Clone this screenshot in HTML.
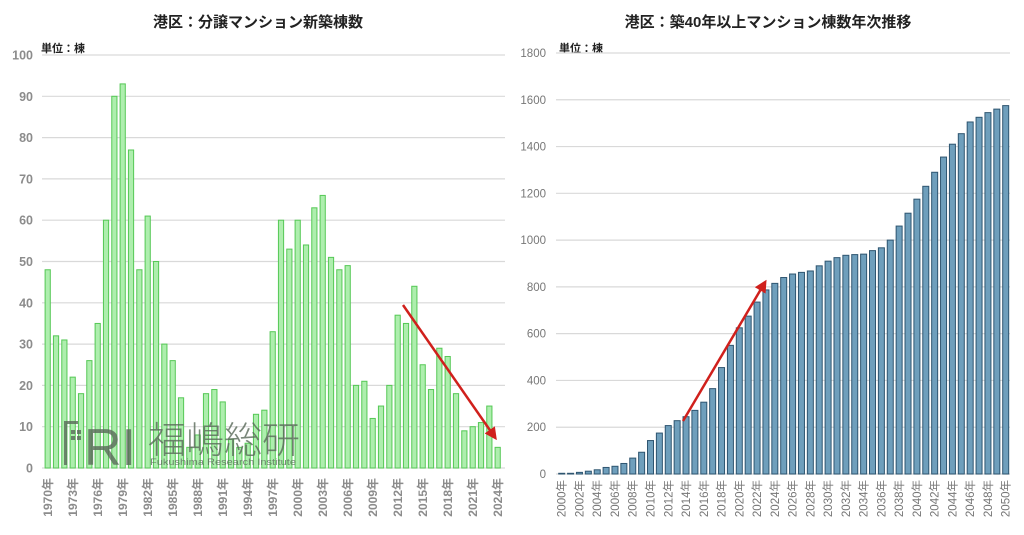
<!DOCTYPE html>
<html><head><meta charset="utf-8">
<style>
html,body{margin:0;padding:0;background:#fff;}
svg{display:block;font-family:"Liberation Sans","Noto Sans CJK JP",sans-serif;}
</style></head>
<body>
<svg id="s" width="1024" height="535" viewBox="0 0 1024 535" xmlns="http://www.w3.org/2000/svg">
<defs>
<marker id="ah" markerWidth="5" markerHeight="5" refX="3" refY="2.5" orient="auto" markerUnits="strokeWidth">
<path d="M0,0 L5,2.5 L0,5 z" fill="#d0201c"/>
</marker>
</defs>
<text x="258" y="27" font-size="15" font-weight="bold" text-anchor="middle" fill="#222">港区：分譲マンション新築棟数</text>
<text x="41" y="52" font-size="11" font-weight="bold" fill="#222">単位：棟</text>
<text x="768" y="27" font-size="15" font-weight="bold" text-anchor="middle" fill="#222">港区：築40年以上マンション棟数年次推移</text>
<text x="559" y="52" font-size="11" font-weight="bold" fill="#222">単位：棟</text>
<g id="L"></g>
<g id="R"></g>
<g opacity="0.8" fill="#5a6a5a">
<rect x="64" y="421" width="3" height="44"/><rect x="64" y="421" width="14" height="3"/>
<rect x="71" y="430" width="4" height="4"/><rect x="77" y="430" width="4" height="4"/><rect x="71" y="436" width="4" height="4"/><rect x="77" y="436" width="4" height="4"/>
<text x="84" y="465" font-size="52" textLength="52" lengthAdjust="spacingAndGlyphs">RI</text>
<text x="148" y="453" font-size="37" textLength="152" lengthAdjust="spacingAndGlyphs" font-family="'Noto Sans CJK JP',sans-serif" font-weight="300">福嶋総研</text>
<text x="150" y="465" font-size="9" textLength="146" lengthAdjust="spacingAndGlyphs">Fukushima Research Institute</text>
</g>
<line x1="403" y1="305" x2="494" y2="436" stroke="#d0201c" stroke-width="2.5" marker-end="url(#ah)"/>
<line x1="683" y1="421" x2="764" y2="284" stroke="#d0201c" stroke-width="2.5" marker-end="url(#ah)"/>
</svg>
<script>
var NS="http://www.w3.org/2000/svg";
function el(p,t,a,txt){var e=document.createElementNS(NS,t);for(var k in a)e.setAttribute(k,a[k]);if(txt!=null)e.textContent=txt;p.appendChild(e);return e;}
var L=document.getElementById("L");
var lv=[48,32,31,22,18,26,35,60,90,93,77,48,61,50,30,26,17,5,8,18,19,16,7,5,6,13,14,33,60,53,60,54,63,66,51,48,49,20,21,12,15,20,37,35,44,25,19,29,27,18,9,10,11,15,5];
var y0=468,ys=4.13;
for(var i=0;i<=10;i++){var y=y0-i*10*ys;
 el(L,"line",{x1:42,x2:505,y1:y,y2:y,stroke:"#d9d9d9","stroke-width":1.2});
 el(L,"text",{x:33,y:y+4.5,"font-size":12.5,"font-weight":"bold",fill:"#8c8c8c","text-anchor":"end"},String(i*10));}
for(var i=0;i<lv.length;i++){var cx=47.7+i*8.333,h=lv[i]*ys;
 el(L,"rect",{x:cx-2.6,y:y0-h,width:5.2,height:h,fill:"#aeeeae",stroke:"#55c855","stroke-width":1});
 if(i%3==0){el(L,"text",{x:0,y:0,"font-size":12,"font-weight":"bold",fill:"#8c8c8c","text-anchor":"end",transform:"translate("+(cx+4.5)+",478) rotate(-90)"},(1970+i)+"年");}}
var R=document.getElementById("R");
var rv=[3,3,7,12,18,28,33,45,68,93,143,175,207,228,245,272,307,365,455,550,625,675,735,787,815,840,855,862,868,890,910,925,935,938,940,955,967,1000,1060,1115,1175,1230,1290,1355,1410,1455,1505,1525,1545,1560,1575];
var r0=474,rs=0.2339;
for(var i=0;i<=9;i++){var y=r0-i*200*rs;
 el(R,"line",{x1:556,x2:1010,y1:y,y2:y,stroke:"#d9d9d9","stroke-width":1.2});
 el(R,"text",{x:546,y:y+4,"font-size":11.5,fill:"#777","text-anchor":"end"},String(i*200));}
for(var i=0;i<rv.length;i++){var cx=561.7+i*8.88,h=rv[i]*rs;
 el(R,"rect",{x:cx-3,y:r0-h,width:6,height:h,fill:"#6f9fbc",stroke:"#2e5570","stroke-width":1});
 if(i%2==0){el(R,"text",{x:0,y:0,"font-size":11.5,fill:"#777","text-anchor":"end",transform:"translate("+(cx+4)+",480) rotate(-90)"},(2000+i)+"年");}}
</script>
</body></html>
